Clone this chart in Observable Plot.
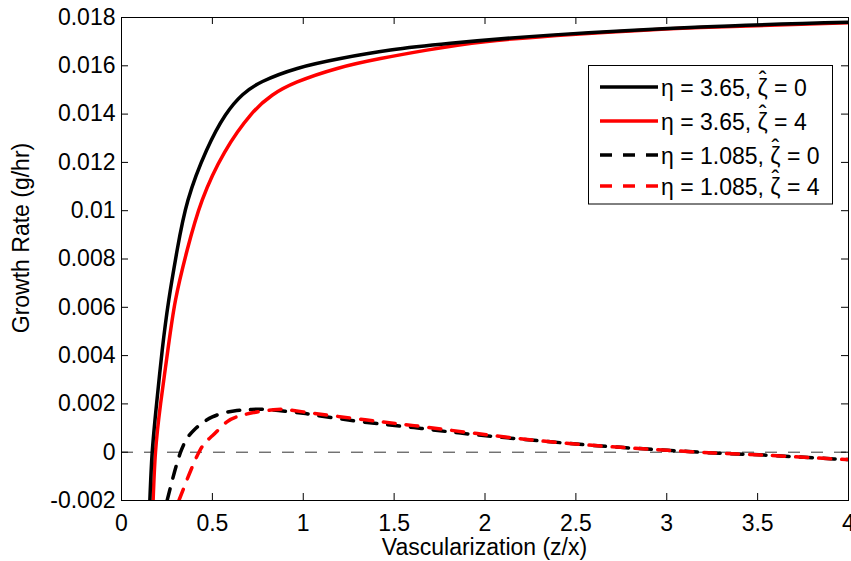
<!DOCTYPE html>
<html>
<head>
<meta charset="utf-8">
<script src="https://cdn.jsdelivr.net/npm/d3@7"></script>
<script src="https://cdn.jsdelivr.net/npm/@observablehq/plot@0.6"></script>
<style>
  html, body { margin: 0; padding: 0; background: white; }
</style>
</head>
<body>
<div id="chart"></div>
<script>
// ---- Data ----
// eta = 3.65, zeta-hat = 0  (black solid)
const xA = [0.156, 0.169, 0.193, 0.224, 0.26, 0.306, 0.366, 0.468, 0.572, 0.666, 0.776, 0.967, 1.205, 1.48, 1.81, 2.361, 3.187, 4.0];
const yA = [-0.002, 0, 0.002, 0.00422, 0.00629, 0.00836, 0.01044, 0.0125, 0.01396, 0.0148, 0.01535, 0.01589, 0.0163, 0.01665, 0.01693, 0.01727, 0.01761, 0.0178];
// eta = 3.65, zeta-hat = 4  (red solid)
const xB = [0.174, 0.187, 0.215, 0.255, 0.297, 0.361, 0.444, 0.567, 0.71, 0.829, 0.967, 1.187, 1.425, 1.68, 2.0, 2.5, 3.187, 4.0];
const yB = [-0.002, 0, 0.002, 0.00422, 0.00629, 0.00836, 0.01044, 0.01242, 0.01396, 0.01478, 0.01533, 0.01589, 0.0163, 0.01665, 0.0170, 0.01731, 0.01759, 0.01778];
// eta = 1.085, zeta-hat = 0  (black dashed)
const xC = [0.251, 0.325, 0.398, 0.5, 0.618, 0.7, 0.78, 0.9, 1.0, 1.095, 1.352, 1.61, 1.866, 2.361, 2.746, 3.003, 3.26, 3.535, 3.92, 4.0];
const yC = [-0.002, 0, 0.00091, 0.00146, 0.00171, 0.00176, 0.00178, 0.0017, 0.00161, 0.00150, 0.00123, 0.00102, 0.00079, 0.00043, 0.0002, 0.00008, -0.00003, -0.00012, -0.00028, -0.0003];
// eta = 1.085, zeta-hat = 4  (red dashed)
const xD = [0.316, 0.426, 0.5, 0.58, 0.65, 0.727, 0.857, 1.0, 1.352, 1.61, 1.957, 2.361, 2.746, 3.003, 3.26, 3.535, 3.92, 4.0];
const yD = [-0.002, 0, 0.00068, 0.00126, 0.0015, 0.00164, 0.00177, 0.00167, 0.00133, 0.0011, 0.00077, 0.00043, 0.0002, 0.00008, -0.00003, -0.00012, -0.00028, -0.0003];

const xTicks = [0, 0.5, 1, 1.5, 2, 2.5, 3, 3.5, 4];
const yTicks = [-0.002, 0, 0.002, 0.004, 0.006, 0.008, 0.01, 0.012, 0.014, 0.016, 0.018];
const legendEta = ["3.65", "3.65", "1.085", "1.085"];
const legendZeta = ["0", "4", "0", "4"];
const legendColors = ["black", "red", "black", "red"];
const legendDash = [null, null, "12,11", "12,11"];

const toRows = (xs, ys) => xs.map((x, i) => ({x, y: ys[i]}));
const A = toRows(xA, yA), B = toRows(xB, yB), C = toRows(xC, yC), D = toRows(xD, yD);

const fmtY = d => d === 0 ? "0" : String(+d.toFixed(3));
const fmtX = d => String(d);

const W = 851, H = 561, mL = 121, mR = 3, mT = 17, mB = 61;
const innerW = W - mL - mR, innerH = H - mT - mB, tickLen = 7;
const FONT = "'Liberation Sans', Arial, Helvetica, sans-serif";
const FS = 23;

const lineOpts = (stroke, dash) => ({
  x: "x", y: "y", stroke, strokeWidth: 3.5, curve: "natural", clip: true,
  strokeDasharray: dash || undefined
});

const chart = Plot.plot({
  width: W, height: H,
  marginLeft: mL, marginRight: mR, marginTop: mT, marginBottom: mB,
  style: {fontFamily: FONT, fontSize: FS + "px", background: "white", color: "black", overflow: "visible"},
  x: {domain: [0, 4]},
  y: {domain: [-0.002, 0.018]},
  marks: [
    Plot.ruleY([0], {stroke: "#333", strokeWidth: 1, strokeDasharray: "12,11"}),
    Plot.line(C, lineOpts("black", "12,11")),
    Plot.line(D, lineOpts("red", "12,11")),
    Plot.line(B, lineOpts("red")),
    Plot.line(A, lineOpts("black")),
    Plot.tickX(xTicks, {x: d => d, insetTop: innerH - tickLen, stroke: "black"}),
    Plot.tickX(xTicks, {x: d => d, insetBottom: innerH - tickLen, stroke: "black"}),
    Plot.tickY(yTicks, {y: d => d, insetRight: innerW - tickLen, stroke: "black"}),
    Plot.tickY(yTicks, {y: d => d, insetLeft: innerW - tickLen, stroke: "black"}),
    Plot.axisX(xTicks, {tickSize: 0, tickPadding: 14, tickFormat: fmtX, label: null}),
    Plot.axisY(yTicks, {tickSize: 0, tickPadding: 6, tickFormat: fmtY, label: null}),
    Plot.frame({stroke: "black", strokeWidth: 1})
  ]
});

document.getElementById("chart").appendChild(chart);
const svg = d3.select(chart);

// axis labels
svg.append("text")
  .attr("x", mL + innerW / 2).attr("y", 555)
  .attr("text-anchor", "middle")
  .attr("font-family", FONT).attr("font-size", FS).attr("fill", "black")
  .text("Vascularization (z/x)");
svg.append("text")
  .attr("transform", "translate(29,238) rotate(-90)")
  .attr("text-anchor", "middle")
  .attr("font-family", FONT).attr("font-size", FS).attr("fill", "black")
  .text("Growth Rate (g/hr)");

// legend
const lg = svg.append("g");
lg.append("rect")
  .attr("x", 588.5).attr("y", 65.5).attr("width", 244).attr("height", 138.5)
  .attr("fill", "white").attr("stroke", "black").attr("stroke-width", 1);
const rowY = [87, 121, 155, 186];
const styleText = sel => sel
  .attr("text-anchor", "start")
  .attr("font-family", FONT).attr("font-size", FS).attr("fill", "black");
// measure glyph widths
const measure = s => {
  const t = styleText(lg.append("text")).text(s);
  const w = t.node().getComputedTextLength();
  t.remove();
  return w;
};
const wZeta = measure("ζ");
const wHat = measure("ˆ");
const HAT_UP = 8;
rowY.forEach((ry, i) => {
  lg.append("line")
    .attr("x1", 600).attr("x2", 658).attr("y1", ry).attr("y2", ry)
    .attr("stroke", legendColors[i]).attr("stroke-width", 3.5)
    .attr("stroke-dasharray", legendDash[i]);
  const t = styleText(lg.append("text")).attr("x", 661).attr("y", ry + 9);
  t.append("tspan").text("η = " + legendEta[i] + ", ");
  t.append("tspan").text("ζ");
  t.append("tspan").attr("dx", -(wZeta / 2 + wHat / 2)).attr("dy", -HAT_UP).text("ˆ");
  t.append("tspan").attr("dx", wZeta / 2 - wHat / 2).attr("dy", HAT_UP).text(" = " + legendZeta[i]);
});
</script>
</body>
</html>
